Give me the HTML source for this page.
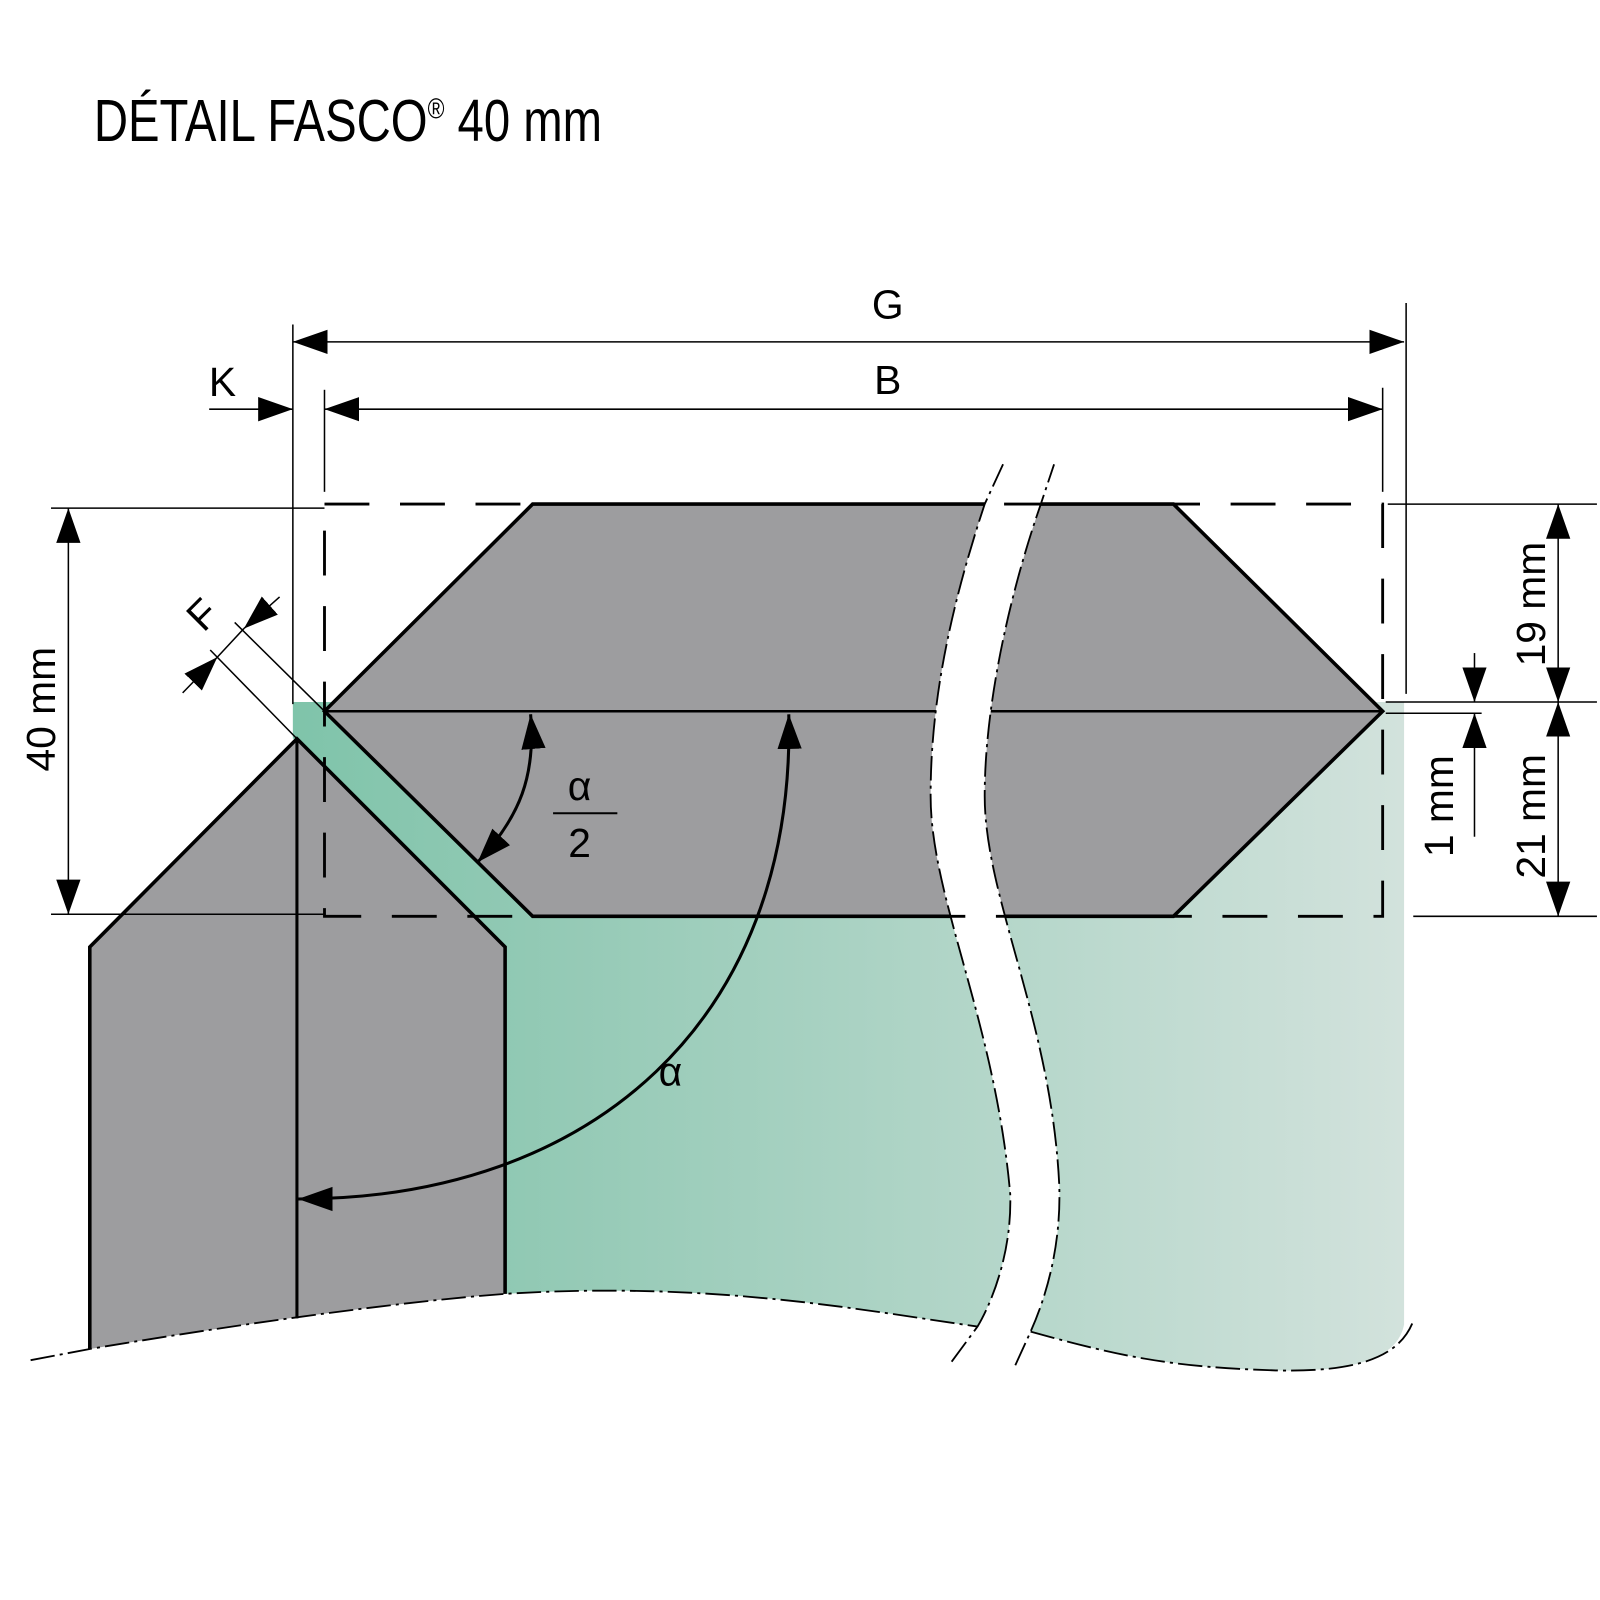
<!DOCTYPE html>
<html><head><meta charset="utf-8"><style>html,body{margin:0;padding:0;background:#fff}svg{display:block}</style></head>
<body>
<svg width="1600" height="1600" viewBox="0 0 1568 1568" xmlns="http://www.w3.org/2000/svg" font-family="Liberation Sans Narrow, Liberation Sans, sans-serif">
<defs>
<linearGradient id="g" x1="287" y1="0" x2="1376" y2="0" gradientUnits="userSpaceOnUse">
<stop offset="0" stop-color="#7fc4aa"/><stop offset="0.25" stop-color="#95cab6"/><stop offset="1" stop-color="#d2e2dc"/></linearGradient>
<marker id="a" viewBox="0 0 10 10" refX="10" refY="5" markerWidth="34" markerHeight="34" markerUnits="userSpaceOnUse" orient="auto-start-reverse"><path d="M0,1.5 L10,5 L0,8.5z" fill="#000"/></marker>
</defs>
<text x="92" y="138" font-size="58" textLength="498" lengthAdjust="spacingAndGlyphs">DÉTAIL FASCO<tspan font-size="28" dy="-22">®</tspan><tspan dy="22"> 40 mm</tspan></text>

<path d="M287,688 L1376,688 L1376,1298 C1370,1330 1330,1345 1250,1343 C1150,1340 1100,1330 1010,1305 L958,1300 C850,1285 700,1255 495,1268 L495,928 L291,724 L287,724 Z" fill="url(#g)"/>
<path d="M88,928 L291,724 L495,928 L495,1268 C400,1275 250,1295 88,1322 Z" fill="#9d9d9f"/>
<path d="M88,1322 L88,928 L291,724 L495,928 L495,1268" fill="none" stroke="#000" stroke-width="3.5"/>
<line x1="291" y1="724" x2="291" y2="1292" stroke="#000" stroke-width="3"/>
<path d="M522,494 L1150,494 L1355,697 L1150,898 L522,898 L318,697 Z" fill="#9d9d9f" stroke="#000" stroke-width="3.5"/>
<line x1="318" y1="697" x2="1355" y2="697" stroke="#000" stroke-width="2.5"/>
<path d="M983,455 L965,494 C930,600 912,690 912,780 C912,880 975,1000 990,1170 C992,1230 970,1280 958,1300 L930,1338 L995,1338 L1010,1305 C1030,1260 1040,1210 1038,1160 C1030,1000 965,880 965,780 C965,690 990,580 1020,494 L1033,455 Z" fill="#fff"/>
<path d="M983,455 L965,494 C930,600 912,690 912,780 C912,880 975,1000 990,1170 C992,1230 970,1280 958,1300 L930,1338" fill="none" stroke="#000" stroke-width="1.8" stroke-dasharray="24 5 3 5"/>
<path d="M995,1338 L1010,1305 C1030,1260 1040,1210 1038,1160 C1030,1000 965,880 965,780 C965,690 990,580 1020,494 L1033,455" fill="none" stroke="#000" stroke-width="1.8" stroke-dasharray="24 5 3 5"/>
<path d="M30,1333 L88,1322 C250,1295 400,1275 495,1268 C700,1255 850,1285 958,1300" fill="none" stroke="#000" stroke-width="1.8" stroke-dasharray="24 5 3 5"/>
<path d="M1010,1305 C1100,1330 1150,1340 1250,1343 C1330,1345 1370,1330 1384,1297" fill="none" stroke="#000" stroke-width="1.8" stroke-dasharray="24 5 3 5"/>
<rect x="318" y="494" width="1037" height="404" fill="none" stroke="#000" stroke-width="2.8" stroke-dasharray="44 30"/>

<g stroke="#000" stroke-width="1.5" fill="none">
<line x1="287" y1="318" x2="287" y2="690"/><line x1="1378" y1="297" x2="1378" y2="680"/>
<line x1="287" y1="335" x2="1376" y2="335" marker-start="url(#a)" marker-end="url(#a)"/>
<line x1="318" y1="382" x2="318" y2="482"/><line x1="1355" y1="380" x2="1355" y2="482"/>
<line x1="318" y1="401" x2="1355" y2="401" marker-start="url(#a)" marker-end="url(#a)"/>
<line x1="205" y1="401" x2="287" y2="401" marker-end="url(#a)"/>
<line x1="50" y1="498" x2="318" y2="498"/><line x1="50" y1="896" x2="318" y2="896"/>
<line x1="67" y1="498" x2="67" y2="896" marker-start="url(#a)" marker-end="url(#a)"/>
<line x1="1360" y1="494" x2="1565" y2="494"/><line x1="1358" y1="688" x2="1565" y2="688"/><line x1="1358" y1="699" x2="1452" y2="699"/><line x1="1385" y1="898" x2="1565" y2="898"/>
<line x1="1527" y1="494" x2="1527" y2="688" marker-start="url(#a)" marker-end="url(#a)"/>
<line x1="1527" y1="688" x2="1527" y2="898" marker-start="url(#a)" marker-end="url(#a)"/>
<line x1="1445" y1="640" x2="1445" y2="688" marker-end="url(#a)"/>
<line x1="1445" y1="820" x2="1445" y2="699" marker-end="url(#a)"/>
<line x1="230" y1="610" x2="318" y2="697"/><line x1="206" y1="637" x2="291" y2="724"/>
<line x1="274" y1="585" x2="239" y2="616" marker-end="url(#a)"/>
<line x1="179" y1="679" x2="213" y2="644" marker-end="url(#a)"/>
<line x1="239" y1="616" x2="213" y2="644"/>
</g>
<path d="M520,700 C525,760 510,800 468,845" fill="none" stroke="#000" stroke-width="3" marker-start="url(#a)" marker-end="url(#a)"/>
<path d="M773,700 C780,1000 580,1175 292,1175" fill="none" stroke="#000" stroke-width="3" marker-start="url(#a)" marker-end="url(#a)"/>

<g font-size="40" text-anchor="middle" fill="#000">
<text x="870" y="312">G</text>
<text x="870" y="386">B</text>
<text x="218" y="388">K</text>
<text x="568" y="784">α</text>
<line x1="542" y1="797" x2="605" y2="797" stroke="#000" stroke-width="2"/>
<text x="568" y="840">2</text>
<text x="657" y="1064">α</text>
<text transform="translate(208,612) rotate(-45)">F</text>
<text transform="translate(54,695) rotate(-90)">40 mm</text>
<text transform="translate(1514,592) rotate(-90)">19 mm</text>
<text transform="translate(1514,800) rotate(-90)">21 mm</text>
<text transform="translate(1424,790) rotate(-90)">1 mm</text>
</g>
</svg>
</body></html>
